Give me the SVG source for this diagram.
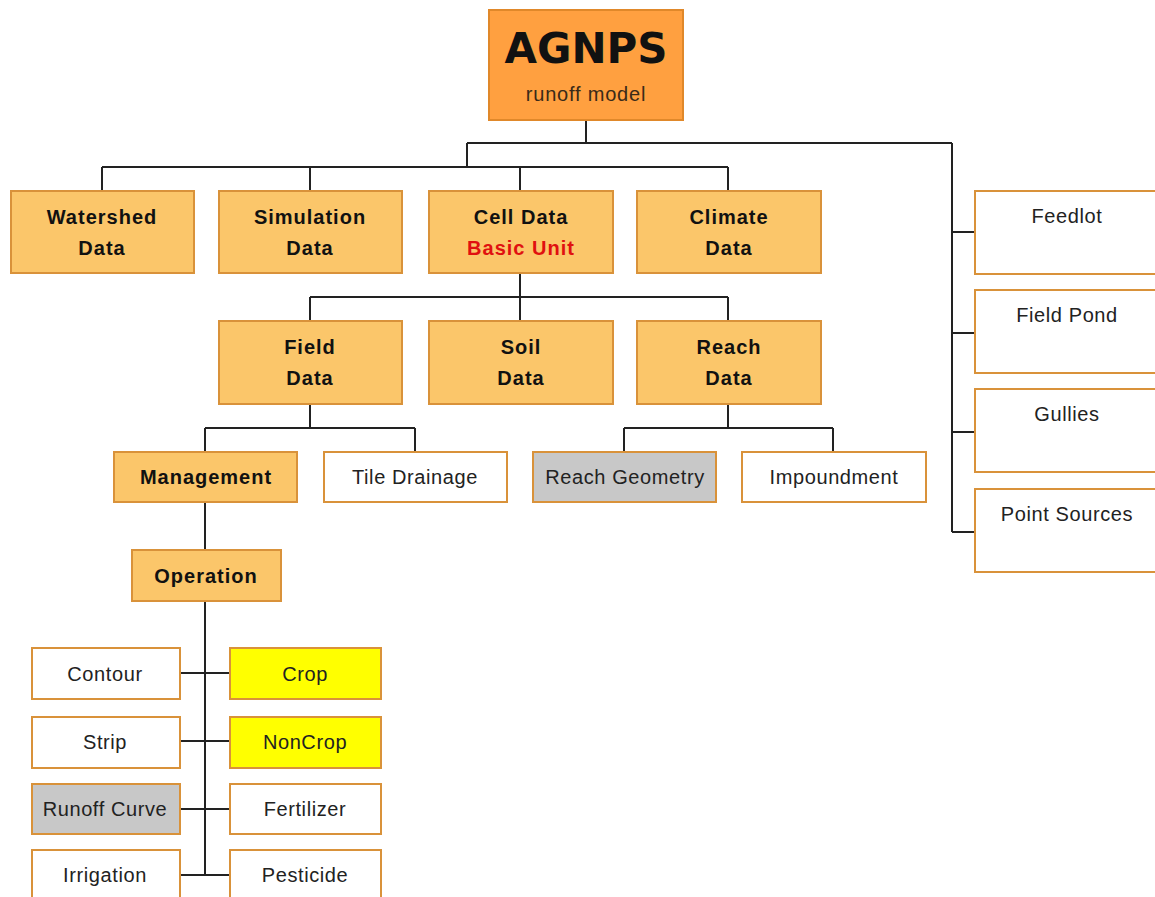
<svg xmlns="http://www.w3.org/2000/svg" width="1155" height="897" viewBox="0 0 1155 897">
<style>
.o{fill:#FBC66A;stroke:#D9923A;stroke-width:2}
.w{fill:#fff;stroke:#D9923A;stroke-width:2}
.g{fill:#C8C8C8;stroke:#D9923A;stroke-width:2}
.y{fill:#FFFF00;stroke:#D9923A;stroke-width:2}
.b{font-family:"Liberation Sans",Arial,sans-serif;font-weight:bold;font-size:20px;letter-spacing:1px;fill:#111;text-anchor:middle}
.t{font-family:"Liberation Sans",Arial,sans-serif;font-size:20px;letter-spacing:0.6px;fill:#222;text-anchor:middle}
#conn path{fill:none;stroke:#222;stroke-width:2}
</style>
<rect width="1155" height="897" fill="#fff"/>
<g id="conn">
<path d="M586 120V143M467 143H952M467 143V167M102 167H728M102 167V191M310 167V191M520 167V191M728 167V191"/>
<path d="M952 143V532M952 232H975M952 333H975M952 432H975M952 532H975"/>
<path d="M520 273V297M310 297H728M310 297V321M520 297V321M728 297V321"/>
<path d="M310 404V428M205 428H415M205 428V452M415 428V452"/>
<path d="M728 404V428M624 428H833M624 428V452M833 428V452"/>
<path d="M205 502V550M205 601V875M180 673H230M180 741H230M180 809H230M180 875H230"/>
</g>
<g id="agnps"><rect x="489" y="10" width="194" height="110" fill="#FFA040" stroke="#E0882A" stroke-width="2"/>
<text x="586" y="63" text-anchor="middle" font-family="'DejaVu Sans',sans-serif" font-weight="bold" font-size="42" fill="#111">AGNPS</text>
<text x="586" y="101" text-anchor="middle" font-family="'Liberation Sans',Arial,sans-serif" font-size="20" letter-spacing="0.8" fill="#3a2a18">runoff model</text></g>
<g id="watershed"><rect class="o" x="11" y="191" width="183" height="82"/><text class="b" x="102" y="224">Watershed</text><text class="b" x="102" y="255">Data</text></g>
<g id="simulation"><rect class="o" x="219" y="191" width="183" height="82"/><text class="b" x="310" y="224">Simulation</text><text class="b" x="310" y="255">Data</text></g>
<g id="cell"><rect class="o" x="429" y="191" width="184" height="82"/><text class="b" x="521" y="224">Cell Data</text><text class="b" x="521" y="255" style="fill:#E01010">Basic Unit</text></g>
<g id="climate"><rect class="o" x="637" y="191" width="184" height="82"/><text class="b" x="729" y="224">Climate</text><text class="b" x="729" y="255">Data</text></g>
<g id="feedlot"><rect class="w" x="975" y="191" width="190" height="83"/><text class="t" x="1067" y="223">Feedlot</text></g>
<g id="fieldpond"><rect class="w" x="975" y="290" width="190" height="83"/><text class="t" x="1067" y="322">Field Pond</text></g>
<g id="gullies"><rect class="w" x="975" y="389" width="190" height="83"/><text class="t" x="1067" y="421">Gullies</text></g>
<g id="pointsources"><rect class="w" x="975" y="489" width="190" height="83"/><text class="t" x="1067" y="521">Point Sources</text></g>
<g id="field"><rect class="o" x="219" y="321" width="183" height="83"/><text class="b" x="310" y="354">Field</text><text class="b" x="310" y="385">Data</text></g>
<g id="soil"><rect class="o" x="429" y="321" width="184" height="83"/><text class="b" x="521" y="354">Soil</text><text class="b" x="521" y="385">Data</text></g>
<g id="reach"><rect class="o" x="637" y="321" width="184" height="83"/><text class="b" x="729" y="354">Reach</text><text class="b" x="729" y="385">Data</text></g>
<g id="management"><rect class="o" x="114" y="452" width="183" height="50"/><text class="b" x="206" y="484">Management</text></g>
<g id="tiledrainage"><rect class="w" x="324" y="452" width="183" height="50"/><text class="t" x="415" y="484">Tile Drainage</text></g>
<g id="reachgeometry"><rect class="g" x="533" y="452" width="183" height="50"/><text class="t" x="625" y="484">Reach Geometry</text></g>
<g id="impoundment"><rect class="w" x="742" y="452" width="184" height="50"/><text class="t" x="834" y="484">Impoundment</text></g>
<g id="operation"><rect class="o" x="132" y="550" width="149" height="51"/><text class="b" x="206" y="583">Operation</text></g>
<g id="contour"><rect class="w" x="32" y="648" width="148" height="51"/><text class="t" x="105" y="681">Contour</text></g>
<g id="crop"><rect class="y" x="230" y="648" width="151" height="51"/><text class="t" x="305" y="681">Crop</text></g>
<g id="strip"><rect class="w" x="32" y="717" width="148" height="51"/><text class="t" x="105" y="749">Strip</text></g>
<g id="noncrop"><rect class="y" x="230" y="717" width="151" height="51"/><text class="t" x="305" y="749">NonCrop</text></g>
<g id="runoffcurve"><rect class="g" x="32" y="784" width="148" height="50"/><text class="t" x="105" y="816">Runoff Curve</text></g>
<g id="fertilizer"><rect class="w" x="230" y="784" width="151" height="50"/><text class="t" x="305" y="816">Fertilizer</text></g>
<g id="irrigation"><rect class="w" x="32" y="850" width="148" height="60"/><text class="t" x="105" y="882">Irrigation</text></g>
<g id="pesticide"><rect class="w" x="230" y="850" width="151" height="60"/><text class="t" x="305" y="882">Pesticide</text></g>
</svg>
